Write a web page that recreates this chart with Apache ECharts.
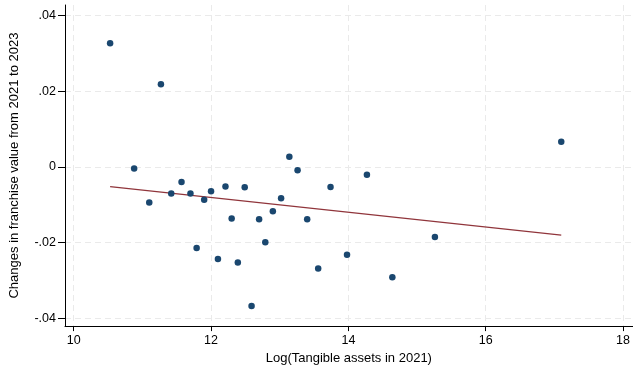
<!DOCTYPE html>
<html>
<head>
<meta charset="utf-8">
<script src="https://cdn.jsdelivr.net/npm/echarts@6/dist/echarts.min.js"></script>
<style>html,body{margin:0;padding:0;background:#fff;}#c{width:633px;height:370px;}</style>
</head>
<body>
<div id="c"></div>
<script>
const logAssets = [10.53, 10.88, 11.10, 11.27, 11.42, 11.57, 11.70, 11.79, 11.90, 12.00, 12.10, 12.21, 12.30, 12.39, 12.49, 12.59, 12.70, 12.79, 12.90, 13.02, 13.14, 13.26, 13.40, 13.56, 13.74, 13.98, 14.27, 14.64, 15.26, 17.10];
const franchiseChange = [0.0326, -0.0004, -0.0094, 0.0218, -0.0070, -0.0040, -0.0070, -0.0214, -0.0087, -0.0064, -0.0243, -0.0052, -0.0136, -0.0252, -0.0054, -0.0367, -0.0138, -0.0199, -0.0117, -0.0083, 0.0027, -0.0009, -0.0138, -0.0268, -0.0053, -0.0232, -0.0021, -0.0291, -0.0185, 0.0066];
const fitX = [10.53, 17.10];
const fitY = [-0.0052, -0.0180];
const xTicks = [10, 12, 14, 16, 18];
const yTicks = [-0.04, -0.02, 0, 0.02, 0.04];
const yTickLabels = ['-.04', '-.02', '0', '.02', '.04'];

const chart = echarts.init(document.getElementById('c'), null, {renderer: 'canvas'});
const font = 'Liberation Sans, Arial, Helvetica, sans-serif';
const axisLine = {show: true, onZero: false, lineStyle: {color: '#000', width: 1}};
const splitLine = {show: true, lineStyle: {color: '#eaeaea', type: [6, 4], width: 1}};
chart.setOption({
  animation: false,
  grid: {left: 64.7, right: 0, top: 5, bottom: 40.7, containLabel: false},
  xAxis: {
    type: 'value', min: 9.873, max: 18.14,
    name: 'Log(Tangible assets in 2021)', nameLocation: 'middle', nameGap: 22,
    nameTextStyle: {fontFamily: font, fontSize: 13, color: '#000'},
    axisLine: axisLine,
    axisTick: {show: true, inside: false, length: 5, customValues: xTicks, lineStyle: {color: '#000'}},
    axisLabel: {customValues: xTicks, fontFamily: font, fontSize: 12.5, color: '#000', margin: 8},
    splitLine: splitLine
  },
  yAxis: {
    type: 'value', min: -0.042, max: 0.0427,
    name: 'Changes in franchise value from 2021 to 2023', nameLocation: 'middle', nameGap: 44,
    nameTextStyle: {fontFamily: font, fontSize: 13, color: '#000'},
    axisLine: axisLine,
    axisTick: {show: true, inside: false, length: 7, customValues: yTicks, lineStyle: {color: '#000'}},
    axisLabel: {customValues: yTicks, fontFamily: font, fontSize: 12.5, color: '#000', margin: 9,
      verticalAlign: 'middle',
      formatter: function (v) { const i = yTicks.findIndex(t => Math.abs(t - v) < 1e-9); return i >= 0 ? yTickLabels[i] : ''; }},
    splitLine: splitLine
  },
  series: [
    {type: 'scatter', data: logAssets.map((x, i) => [x, franchiseChange[i]]), symbolSize: 6.5,
     itemStyle: {color: '#1a476f', opacity: 1}, z: 3},
    {type: 'line', data: fitX.map((x, i) => [x, fitY[i]]), symbol: 'none',
     lineStyle: {color: '#90353b', width: 1.2}, z: 2}
  ]
});
</script>
</body>
</html>
